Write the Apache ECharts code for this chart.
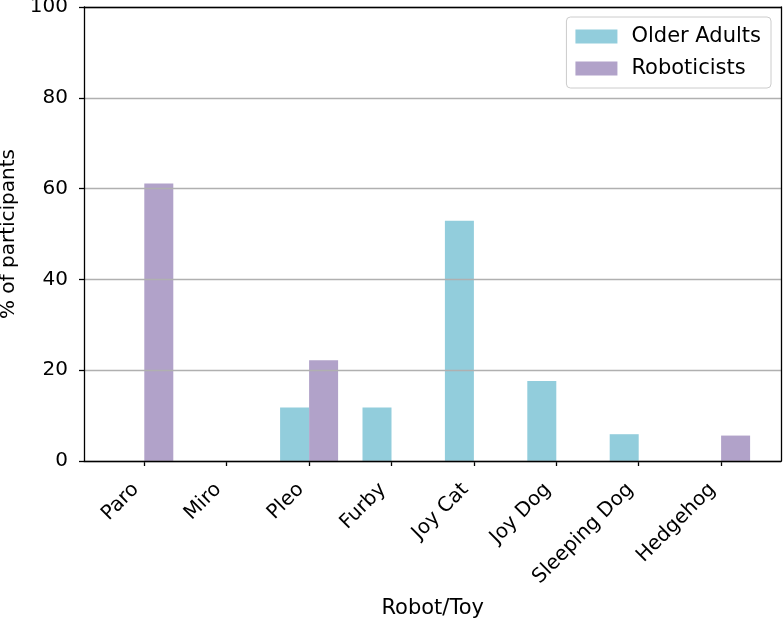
<!DOCTYPE html>
<html>
<head>
<meta charset="utf-8">
<script src="https://cdn.jsdelivr.net/npm/echarts@6/dist/echarts.min.js"></script>
<style>html,body{margin:0;padding:0;background:#fff}#c{width:783px;height:618px}</style>
</head>
<body>
<div id="c"></div>
<script>
const categories = ['Paro', 'Miro', 'Pleo', 'Furby', 'Joy Cat', 'Joy Dog', 'Sleeping Dog', 'Hedgehog'];
const olderAdults = [0, 0, 11.8, 11.8, 52.9, 17.6, 5.9, 0];
const roboticists = [61.1, 0, 22.2, 0, 0, 0, 0, 5.6];
const yTicks = [0, 20, 40, 60, 80, 100];

const FONT = 'DejaVu Sans';
const FS = 20;
const FS2 = 21;
const spine = {show: true, onZero: false, lineStyle: {color: '#000', width: 1.3}};
const chart = echarts.init(document.getElementById('c'), null, {renderer: 'canvas'});
chart.setOption({
  animation: false,
  textStyle: {fontFamily: FONT},
  grid: [
    {left: 84, right: 2, top: 7, bottom: 157, containLabel: false, outerBoundsMode: 'none'},
    {left: 103.1, right: 20.7, top: 7, bottom: 157, containLabel: false, outerBoundsMode: 'none'}
  ],
  legend: {
    orient: 'vertical', right: 12, top: 17,
    data: ['Older Adults', 'Roboticists'],
    icon: 'rect', itemWidth: 42, itemHeight: 14, itemGap: 11,
    padding: [9, 10, 9, 9],
    backgroundColor: '#fff', borderColor: '#cccccc', borderWidth: 1, borderRadius: 4,
    textStyle: {fontFamily: FONT, fontSize: FS2, color: '#000', padding: [0, 0, 0, 9], lineHeight: 20}
  },
  xAxis: [
    {type: 'value', gridIndex: 0, min: 0, max: 1, position: 'bottom', z: 5,
     axisLine: spine, axisTick: {show: false}, axisLabel: {show: false}, splitLine: {show: false}},
    {type: 'category', gridIndex: 1, data: categories,
     axisLine: {show: false},
     axisTick: {show: true, alignWithLabel: true, length: 5, lineStyle: {color: '#000', width: 1.3}},
     axisLabel: {rotate: 45, fontSize: FS, color: '#000', fontFamily: FONT, margin: 17, interval: 0,
       padding: [0, 12, 0, 0]},
     name: 'Robot/Toy', nameLocation: 'middle', nameGap: 137,
     nameTextStyle: {fontSize: FS2, color: '#000', fontFamily: FONT}},
    {type: 'value', gridIndex: 0, min: 0, max: 1, position: 'top', z: 5,
     axisLine: spine, axisTick: {show: false}, axisLabel: {show: false}, splitLine: {show: false}}
  ],
  yAxis: [
    {type: 'value', gridIndex: 0, min: 0, max: 100, interval: 20, position: 'left', z: 5,
     axisLine: spine,
     axisTick: {show: true, length: 5, lineStyle: {color: '#000', width: 1.3}},
     axisLabel: {fontSize: FS, color: '#000', fontFamily: FONT, margin: 16,
       formatter: v => yTicks.includes(v) ? String(v) : ''},
     splitLine: {show: true, lineStyle: {color: '#b0b0b0', width: 1.3}},
     name: '% of participants', nameLocation: 'middle', nameGap: 60,
     nameTextStyle: {fontSize: FS, color: '#000', fontFamily: FONT}},
    {type: 'value', gridIndex: 1, min: 0, max: 100, show: false},
    {type: 'value', gridIndex: 0, min: 0, max: 100, position: 'right', z: 5,
     axisLine: spine, axisTick: {show: false}, axisLabel: {show: false}, splitLine: {show: false}}
  ],
  series: [
    {name: 'Older Adults', type: 'bar', xAxisIndex: 1, yAxisIndex: 1, data: olderAdults,
     barWidth: 29, barGap: '0%', itemStyle: {color: '#92cddc'}},
    {name: 'Roboticists', type: 'bar', xAxisIndex: 1, yAxisIndex: 1, data: roboticists,
     barWidth: 29, barGap: '0%', itemStyle: {color: '#b1a2c9'}}
  ]
});
</script>
</body>
</html>
